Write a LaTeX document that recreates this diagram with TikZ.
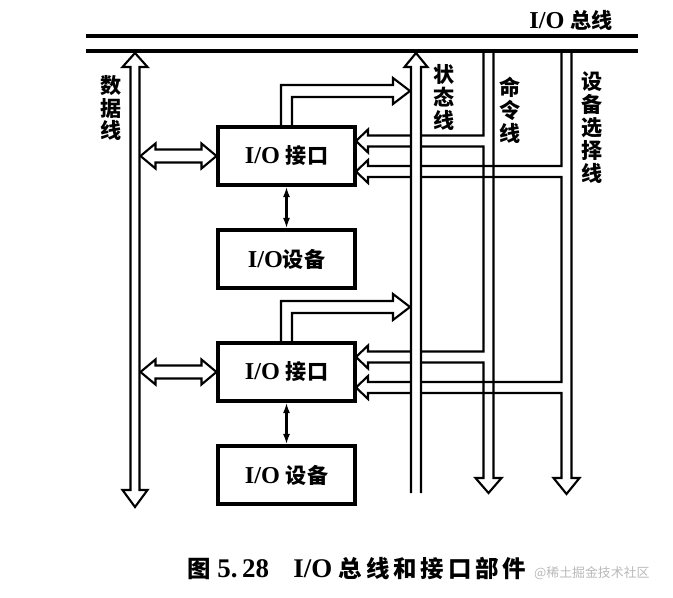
\documentclass[tikz,border=0pt]{standalone}
\usepackage{fontspec}
\setmainfont{Liberation Serif}[Scale=1.15]
\newfontfamily\cjk{Noto Sans CJK SC}
\usetikzlibrary{arrows.meta}

\newcommand{\io}{I/O}
\tikzset{
  hollow/.style={line width=1.8pt, line join=miter},
  busline/.style={line width=2.6pt},
  box/.style={draw, line width=2.6pt, minimum width=4.11cm, minimum height=1.74cm,
    inner sep=0pt, font=\fontsize{18}{20}\selectfont\bfseries},
  vlabel/.style={align=center, inner sep=0pt, font=\fontsize{18}{19.6}\selectfont\cjk\bfseries},
}

\begin{document}
\begin{tikzpicture}[x=0.03cm, y=-0.03cm]
  \useasboundingbox (0,0) rectangle (673,598);
  % I/O bus
  \draw[busline] (86,36) -- (638,36);
  \draw[busline] (86,51) -- (638,51);
  \node[font=\fontsize{18}{20}\selectfont\bfseries, anchor=south, inner sep=0pt] (buslbl) at (571,31) {\io\ {\cjk 总线}};

  % interfaces and devices
  \foreach \u/\dy in {1/0, 2/216} {
    \node[box] (if\u) at (286.5,{156+\dy}) {\io\ {\cjk 接口}};
    \draw[hollow] (if\u.west) -- ++(-15,-12.5) -- ++(0,6) -- ++(-46,0) -- ++(0,-6) -- ++(-15,12.5)
      -- ++(15,12.5) -- ++(0,-6) -- ++(46,0) -- ++(0,6) -- cycle;
  }
  \node[box] (dev1) at (286.5,259) {\io{\cjk 设备}};
  \node[box] (dev2) at (286.5,475) {\io\ {\cjk 设备}};
  \foreach \u in {1,2}
    \draw[{Latex[length=9pt,width=6pt]}-{Latex[length=9pt,width=6pt]}, line width=2pt] (if\u.south) -- (dev\u.north);

  % data line
  \draw[hollow] (130.5,67) -- (122.5,67) -- (135,53) -- (147.5,67) -- (139.5,67) -- (139.5,490)
    -- (147.5,490) -- (135,507) -- (122.5,490) -- (130.5,490) -- cycle;

  % command line
  \draw[hollow] (483.5,51) |- (368,135.5) -- (368,129.5) -- (356,141) -- (368,152.5) -- (368,146.5)
    -| (483.5,351.5) -- (368,351.5) -- (368,345.5) -- (356,357) -- (368,368.5) -- (368,362.5)
    -| (483.5,478) -- (475.5,478) -- (488.5,493) -- (501.5,478) -- (493.5,478) -- (493.5,51);

  % device select line
  \draw[hollow] (561.5,51) |- (368,166) -- (368,160) -- (356,171.5) -- (368,183) -- (368,177)
    -| (561.5,382) -- (368,382) -- (368,376) -- (356,387.5) -- (368,399) -- (368,393)
    -| (561.5,478) -- (553.5,478) -- (566.5,494) -- (579.5,478) -- (571.5,478) -- (571.5,51);

  % status line
  \fill[white] (411,67) rectangle (421,493);
  \draw[hollow] (411,493) -- (411,67) -- (404.5,67) -- (416,53) -- (427.5,67) -- (421,67) -- (421,493);
  \foreach \dy in {0, 216}
    \draw[hollow] (281,{125.5+\dy}) |- (393,{85+\dy}) -- (393,{78+\dy}) -- (410,{91+\dy})
      -- (393,{104+\dy}) -- (393,{97+\dy}) -| (292,{125.5+\dy});

  % labels
  \node[vlabel] (lbldata) at (111,108) {数\\据\\线};
  \node[vlabel] (lblstat) at (444,97.5) {状\\态\\线};
  \node[vlabel] (lblcmd) at (510,110.5) {命\\令\\线};
  \node[vlabel] (lbldev) at (592,127.5) {设\\备\\选\\择\\线};

  \node[anchor=west, inner sep=0pt, font=\fontsize{20}{22}\selectfont\bfseries] (caption) at (187,568)
    {{\cjk 图} 5.\,28\hspace{0.9em}\io\ {\cjk 总\,线\,和\,接\,口\,部\,件}};
  \node[anchor=west, inner sep=0pt, text=gray!55, font=\fontsize{11}{12}\selectfont\cjk] (wmark) at (534,573) {@稀土掘金技术社区};
\end{tikzpicture}
\end{document}
